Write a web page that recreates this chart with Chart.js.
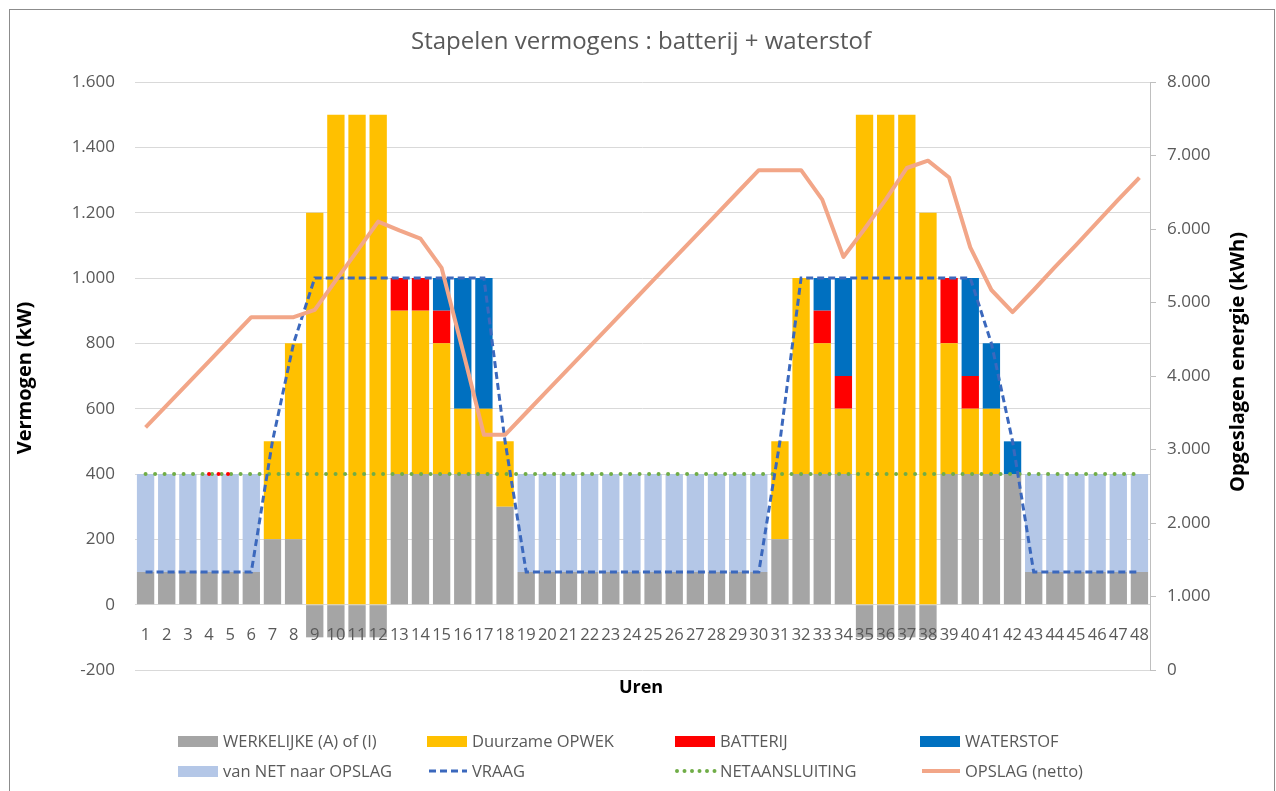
<!DOCTYPE html>
<html lang="nl">
<head>
  <meta charset="UTF-8" />
  <title>Stapelen vermogens : batterij + waterstof</title>
  <script src="https://cdn.jsdelivr.net/npm/chart.js@4.4.1/dist/chart.umd.min.js"></script>
  <style>
    html, body { margin: 0; padding: 0; background: #fff; }
    #wrap { width: 1276px; height: 791px; }
  </style>
</head>
<body>
  <div id="wrap"><canvas id="chart" width="1276" height="791"></canvas></div>
  <script>
    // uren (categorieën)
    const uren = ['1','2','3','4','5','6','7','8','9','10','11','12','13','14','15','16',
                  '17','18','19','20','21','22','23','24','25','26','27','28','29','30','31','32',
                  '33','34','35','36','37','38','39','40','41','42','43','44','45','46','47','48'];

    // vermogens in kW (linker as)
    const werkelijke = [100,100,100,100,100,100,200,200,-100,-100,-100,-100,400,400,400,400,
                        400,300,100,100,100,100,100,100,100,100,100,100,100,100,200,400,
                        400,400,-100,-100,-100,-100,400,400,400,400,100,100,100,100,100,100];
    const duurzaam   = [0,0,0,0,0,0,300,600,1200,1500,1500,1500,500,500,400,200,
                        200,200,0,0,0,0,0,0,0,0,0,0,0,0,300,600,
                        400,200,1500,1500,1500,1200,400,200,200,0,0,0,0,0,0,0];
    const batterij   = [0,0,0,0,0,0,0,0,0,0,0,0,100,100,100,0,
                        0,0,0,0,0,0,0,0,0,0,0,0,0,0,0,0,
                        100,100,0,0,0,0,200,100,0,0,0,0,0,0,0,0];
    const waterstof  = [0,0,0,0,0,0,0,0,0,0,0,0,0,0,100,400,
                        400,0,0,0,0,0,0,0,0,0,0,0,0,0,0,0,
                        100,300,0,0,0,0,0,300,200,100,0,0,0,0,0,0];
    const netOpslag  = [300,300,300,300,300,300,0,0,0,0,0,0,0,0,0,0,
                        0,0,300,300,300,300,300,300,300,300,300,300,300,300,0,0,
                        0,0,0,0,0,0,0,0,0,0,300,300,300,300,300,300];
    const vraag      = [100,100,100,100,100,100,500,800,1000,1000,1000,1000,1000,1000,1000,1000,
                        1000,500,100,100,100,100,100,100,100,100,100,100,100,100,500,1000,
                        1000,1000,1000,1000,1000,1000,1000,1000,800,500,100,100,100,100,100,100];
    const netaansluiting = [400,400,400,400,400,400,400,400,400,400,400,400,400,400,400,400,
                            400,400,400,400,400,400,400,400,400,400,400,400,400,400,400,400,
                            400,400,400,400,400,400,400,400,400,400,400,400,400,400,400,400];
    const rodeStip   = [null,null,null,400,400,null,null,null,null,null,null,null,null,null,null,null,
                        null,null,null,null,null,null,null,null,null,null,null,null,null,null,null,null,
                        null,null,null,null,null,null,null,null,null,null,null,null,null,null,null,null];

    // opgeslagen energie in kWh (rechter as)
    const opslag = [3300,3600,3900,4200,4500,4800,4800,4800,4900,5300,5700,6100,5980,5870,5470,4350,
                    3200,3200,3500,3800,4100,4400,4700,5000,5300,5600,5900,6200,6500,6800,6800,6800,
                    6400,5620,6000,6400,6830,6930,6700,5750,5170,4870,5170,5480,5780,6090,6400,6700];

    const FONT = '"Open Sans", "Liberation Sans", sans-serif';
    const GREY_TXT = '#595959';

    function nlNum(v) {
      const s = String(Math.abs(v)).replace(/\B(?=(\d{3})+(?!\d))/g, '.');
      return v < 0 ? '-' + s : s;
    }

    // titels, legenda en kader
    const extras = {
      id: 'extras',
      afterDraw(chart) {
        const ctx = chart.ctx;
        ctx.save();
        ctx.strokeStyle = '#8c8c8c';
        ctx.lineWidth = 1;
        ctx.strokeRect(9.5, 9.5, 1265, 800);

        ctx.fillStyle = GREY_TXT;
        ctx.font = '24px ' + FONT;
        ctx.textAlign = 'center';
        ctx.textBaseline = 'middle';
        ctx.fillText('Stapelen vermogens : batterij + waterstof', 641, 42);

        ctx.fillStyle = '#000';
        ctx.font = 'bold 18px ' + FONT;
        ctx.fillText('Uren', 641, 688);

        ctx.font = 'bold 20px ' + FONT;
        ctx.save();
        ctx.translate(25, 378);
        ctx.rotate(-Math.PI / 2);
        ctx.fillText('Vermogen (kW)', 0, 0);
        ctx.restore();

        ctx.save();
        ctx.translate(1238, 362);
        ctx.rotate(-Math.PI / 2);
        ctx.fillText('Opgeslagen energie (kWh)', 0, 0);
        ctx.restore();

        // legenda
        const cols = [178, 427, 675, 920];
        const rows = [741, 771];
        const items = chart.data.datasets.filter(d => !d.hideInLegend);
        ctx.font = '16.5px ' + FONT;
        ctx.textAlign = 'left';
        items.forEach((d, i) => {
          const x = cols[i % 4], y = rows[Math.floor(i / 4)];
          if (d.type === 'line') {
            ctx.save();
            ctx.strokeStyle = d.borderColor;
            ctx.lineWidth = d.borderWidth;
            ctx.lineCap = d.borderCapStyle || 'butt';
            ctx.setLineDash(d.legendDash || d.borderDash || []);
            ctx.beginPath();
            ctx.moveTo(x + 2, y);
            ctx.lineTo(x + 40, y);
            ctx.stroke();
            ctx.restore();
          } else {
            ctx.fillStyle = d.backgroundColor;
            ctx.fillRect(x, y - 5, 40, 11);
          }
          ctx.fillStyle = GREY_TXT;
          ctx.fillText(d.label, x + 45, y + 1);
        });
        ctx.restore();
      }
    };

    const barDefaults = { type: 'bar', yAxisID: 'y', stack: 'vermogen', order: 2,
                          barPercentage: 1.0, categoryPercentage: 0.82, borderWidth: 0 };

    new Chart(document.getElementById('chart'), {
      data: {
        labels: uren,
        datasets: [
          { ...barDefaults, label: 'WERKELIJKE (A) of (I)', data: werkelijke, backgroundColor: '#a5a5a5' },
          { ...barDefaults, label: 'Duurzame OPWEK', data: duurzaam, backgroundColor: '#ffc000' },
          { ...barDefaults, label: 'BATTERIJ', data: batterij, backgroundColor: '#ff0000' },
          { ...barDefaults, label: 'WATERSTOF', data: waterstof, backgroundColor: '#0070c0' },
          { ...barDefaults, label: 'van NET naar OPSLAG', data: netOpslag, backgroundColor: '#b4c7e7' },
          { type: 'line', label: 'VRAAG', data: vraag, yAxisID: 'y', stack: 'vraag', order: 1,
            borderColor: '#3b68bd', borderWidth: 3, borderDash: [7, 4], pointRadius: 0, tension: 0, fill: false },
          { type: 'line', label: 'NETAANSLUITING', data: netaansluiting, yAxisID: 'y', stack: 'net', order: 1,
            borderColor: '#70ad47', borderWidth: 4, borderDash: [0, 9.5], legendDash: [0, 7.5], borderCapStyle: 'round',
            pointRadius: 0, fill: false },
          { type: 'line', label: 'OPSLAG (netto)', data: opslag, yAxisID: 'y2', order: 0,
            borderColor: '#f2a688', borderWidth: 4, pointRadius: 0, tension: 0, fill: false,
            borderJoinStyle: 'round' },
          { type: 'line', label: 'rood', hideInLegend: true, data: rodeStip, yAxisID: 'y', stack: 'rood', order: 0,
            borderColor: '#ff0000', borderWidth: 4, borderDash: [0, 9.5], borderCapStyle: 'round',
            pointRadius: 0, fill: false, spanGaps: false }
        ]
      },
      options: {
        responsive: false,
        animation: false,
        layout: { padding: { left: 10, right: 10, top: 82, bottom: 121 } },
        plugins: { legend: { display: false }, title: { display: false }, tooltip: { enabled: false } },
        scales: {
          x: {
            stacked: true,
            position: { y: 0 },
            grid: { display: false },
            border: { display: false },
            ticks: { z: 1, autoSkip: false, maxRotation: 0, minRotation: 0, color: GREY_TXT,
                     font: { size: 16.5, family: FONT }, padding: 13 }
          },
          y: {
            stacked: true,
            position: 'left',
            min: -200, max: 1600,
            afterFit: s => { s.width = 125; },
            ticks: { stepSize: 200, color: GREY_TXT, font: { size: 17, family: FONT }, padding: 20, callback: nlNum },
            grid: { color: '#d9d9d9', lineWidth: 1, drawTicks: false },
            border: { display: false }
          },
          y2: {
            position: 'right',
            min: 0, max: 8000,
            afterFit: s => { s.width = 116; },
            ticks: { stepSize: 1000, color: GREY_TXT, font: { size: 17, family: FONT }, padding: 11, callback: nlNum },
            grid: { drawOnChartArea: false, color: '#bfbfbf', tickLength: 6 },
            border: { display: true, color: '#bfbfbf' }
          }
        }
      },
      plugins: [extras]
    });
  </script>
</body>
</html>
